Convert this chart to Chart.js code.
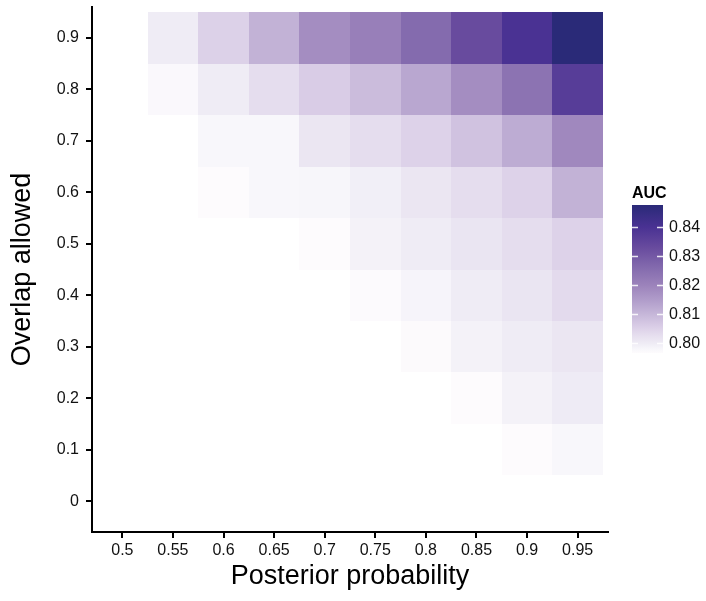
<!DOCTYPE html>
<html>
<head>
<meta charset="utf-8">
<title>AUC heatmap</title>
<script src="https://cdn.jsdelivr.net/npm/chart.js@4.4.1/dist/chart.umd.min.js"></script>
<style>
    html, body { margin: 0; padding: 0; background: #fff; }
    #wrap { width: 706px; height: 601px; position: relative; }
</style>
</head>
<body>
<div id="wrap"><canvas id="heat"></canvas></div>
<script>
    // ====== Data ======
    const posteriorLabels = ["0.5", "0.55", "0.6", "0.65", "0.7", "0.75", "0.8", "0.85", "0.9", "0.95"];
    const overlapLabels = ["0", "0.1", "0.2", "0.3", "0.4", "0.5", "0.6", "0.7", "0.8", "0.9"];

    // AUC per posterior probability, one array per overlap level (null = no tile)
    const aucOverlap00 = [null, null, null, null, null, null, null, null, null, null];
    const aucOverlap01 = [null, null, null, null, null, null, null, null, 0.7967, 0.7980];
    const aucOverlap02 = [null, null, null, null, null, null, null, 0.7967, 0.7990, 0.8002];
    const aucOverlap03 = [null, null, null, null, null, null, 0.7970, 0.7990, 0.8000, 0.8012];
    const aucOverlap04 = [null, null, null, null, null, 0.7968, 0.7985, 0.8000, 0.8015, 0.8035];
    const aucOverlap05 = [null, null, null, null, 0.7967, 0.7990, 0.8000, 0.8015, 0.8030, 0.8050];
    const aucOverlap06 = [null, null, 0.7967, 0.7980, 0.7982, 0.7995, 0.8012, 0.8030, 0.8050, 0.8110];
    const aucOverlap07 = [null, null, 0.7980, 0.7980, 0.8012, 0.8030, 0.8050, 0.8080, 0.8120, 0.8190];
    const aucOverlap08 = [null, 0.7975, 0.8000, 0.8030, 0.8060, 0.8090, 0.8130, 0.8180, 0.8240, 0.8370];
    const aucOverlap09 = [null, 0.8000, 0.8052, 0.8110, 0.8180, 0.8210, 0.8260, 0.8330, 0.8400, 0.8477];

    const legendTicks = [0.80, 0.81, 0.82, 0.83, 0.84];

    const aucRows = [aucOverlap00, aucOverlap01, aucOverlap02, aucOverlap03, aucOverlap04,
                     aucOverlap05, aucOverlap06, aucOverlap07, aucOverlap08, aucOverlap09];

    // ====== Colour scale ======
    const colourStops = [
        [0.7966, "#fdfbfd"],
        [0.7980, "#f8f7fb"],
        [0.8000, "#efecf5"],
        [0.8030, "#e5ddee"],
        [0.8060, "#d9cce6"],
        [0.8100, "#c6b7d9"],
        [0.8150, "#b09cca"],
        [0.8200, "#9c83bb"],
        [0.8260, "#846bae"],
        [0.8330, "#684b9e"],
        [0.8400, "#4a3293"],
        [0.8477, "#2a2a78"]
    ];

    function hexToRgb(h) {
        return [1, 3, 5].map((i) => parseInt(h.slice(i, i + 2), 16));
    }

    function fillFor(v) {
        if (v <= colourStops[0][0]) return colourStops[0][1];
        for (let i = 1; i < colourStops.length; i++) {
            const [v1, c1] = colourStops[i];
            if (v <= v1) {
                const [v0, c0] = colourStops[i - 1];
                const t = (v - v0) / (v1 - v0);
                const a = hexToRgb(c0), b = hexToRgb(c1);
                const rgb = a.map((x, k) => Math.round(x + (b[k] - x) * t));
                return `rgb(${rgb.join(",")})`;
            }
        }
        return colourStops[colourStops.length - 1][1];
    }

    // ====== Build points ======
    const points = [];
    aucRows.forEach((row, yi) => {
        row.forEach((v, xi) => {
            if (v !== null) points.push({ x: xi, y: yi, v });
        });
    });
    const allVals = points.map((p) => p.v);
    const vMin = Math.min(...allVals);
    const vMax = Math.max(...allVals);

    // ====== Plugins ======
    const heatCells = {
        id: "heatCells",
        beforeDatasetsDraw(chart) {
            const { ctx, scales: { x, y } } = chart;
            ctx.save();
            chart.data.datasets[0].data.forEach((p) => {
                const x0 = Math.round(x.getPixelForValue(p.x - 0.5));
                const x1 = Math.round(x.getPixelForValue(p.x + 0.5));
                const y0 = Math.round(y.getPixelForValue(p.y + 0.5));
                const y1 = Math.round(y.getPixelForValue(p.y - 0.5));
                ctx.fillStyle = fillFor(p.v);
                ctx.fillRect(x0, y0, x1 - x0, y1 - y0);
            });
            ctx.restore();
        }
    };

    const colourBar = {
        id: "colourBar",
        afterDraw(chart) {
            const ctx = chart.ctx;
            const left = 632, width = 31, top = 205, bottom = 353;
            const yFor = (v) => bottom - (v - vMin) / (vMax - vMin) * (bottom - top);

            ctx.save();
            ctx.fillStyle = "#000";
            ctx.font = "bold 16px 'Liberation Sans', Arial, sans-serif";
            ctx.textBaseline = "alphabetic";
            ctx.textAlign = "left";
            ctx.fillText("AUC", left, 198);

            const grad = ctx.createLinearGradient(0, bottom, 0, top);
            colourStops.forEach(([v, c]) => {
                const t = Math.min(1, Math.max(0, (v - vMin) / (vMax - vMin)));
                grad.addColorStop(t, c);
            });
            ctx.fillStyle = grad;
            ctx.fillRect(left, top, width, bottom - top);

            ctx.strokeStyle = "rgba(255,255,255,0.85)";
            ctx.lineWidth = 1.5;
            ctx.font = "16px 'Liberation Sans', Arial, sans-serif";
            ctx.fillStyle = "#111";
            ctx.textBaseline = "middle";
            legendTicks.forEach((v) => {
                const yy = Math.round(yFor(v)) + 0.5;
                ctx.beginPath();
                ctx.moveTo(left, yy);
                ctx.lineTo(left + 6, yy);
                ctx.moveTo(left + width - 6, yy);
                ctx.lineTo(left + width, yy);
                ctx.stroke();
                ctx.fillText(v.toFixed(2), left + width + 6, yy);
            });
            ctx.restore();
        }
    };

    // ====== Chart ======
    const tickFont = { family: "'Liberation Sans', Arial, sans-serif", size: 16 };
    const titleFont = { family: "'Liberation Sans', Arial, sans-serif", size: 27 };

    function axisOptions(labels, titleText) {
        return {
            type: "linear",
            min: -0.6,
            max: 9.6,
            afterBuildTicks: (axis) => {
                axis.ticks = labels.map((_, i) => ({ value: i }));
            },
            ticks: {
                autoSkip: false,
                maxRotation: 0,
                color: "#111",
                font: tickFont,
                callback: (value) => labels[value]
            },
            grid: {
                drawOnChartArea: false,
                drawTicks: true,
                tickLength: 6,
                tickWidth: 2,
                tickColor: "#000",
                lineWidth: 2
            },
            border: { display: true, color: "#000", width: 2 },
            title: { display: true, text: titleText, color: "#000", font: titleFont }
        };
    }

    const xOpts = axisOptions(posteriorLabels, "Posterior probability");
    xOpts.ticks.padding = 3;
    xOpts.title.padding = { top: 0, bottom: 8 };
    xOpts.afterFit = (scale) => {
        scale.height = 69;
        scale.paddingLeft = 0;
        scale.paddingRight = 0;
    };

    const yOpts = axisOptions(overlapLabels, "Overlap allowed");
    yOpts.ticks.padding = 7;
    yOpts.title.padding = { top: 6, bottom: 0 };
    yOpts.afterFit = (scale) => {
        scale.width = 92;
        scale.paddingTop = 0;
        scale.paddingBottom = 0;
    };

    new Chart(document.getElementById("heat").getContext("2d"), {
        type: "scatter",
        data: {
            datasets: [{
                label: "AUC",
                data: points,
                pointRadius: 0,
                pointHoverRadius: 0
            }]
        },
        options: {
            responsive: true,
            maintainAspectRatio: false,
            animation: false,
            layout: { padding: { left: 0, top: 7, right: 98, bottom: 0 } },
            plugins: {
                legend: { display: false },
                tooltip: { enabled: false }
            },
            scales: { x: xOpts, y: yOpts }
        },
        plugins: [heatCells, colourBar]
    });
</script>
</body>
</html>
